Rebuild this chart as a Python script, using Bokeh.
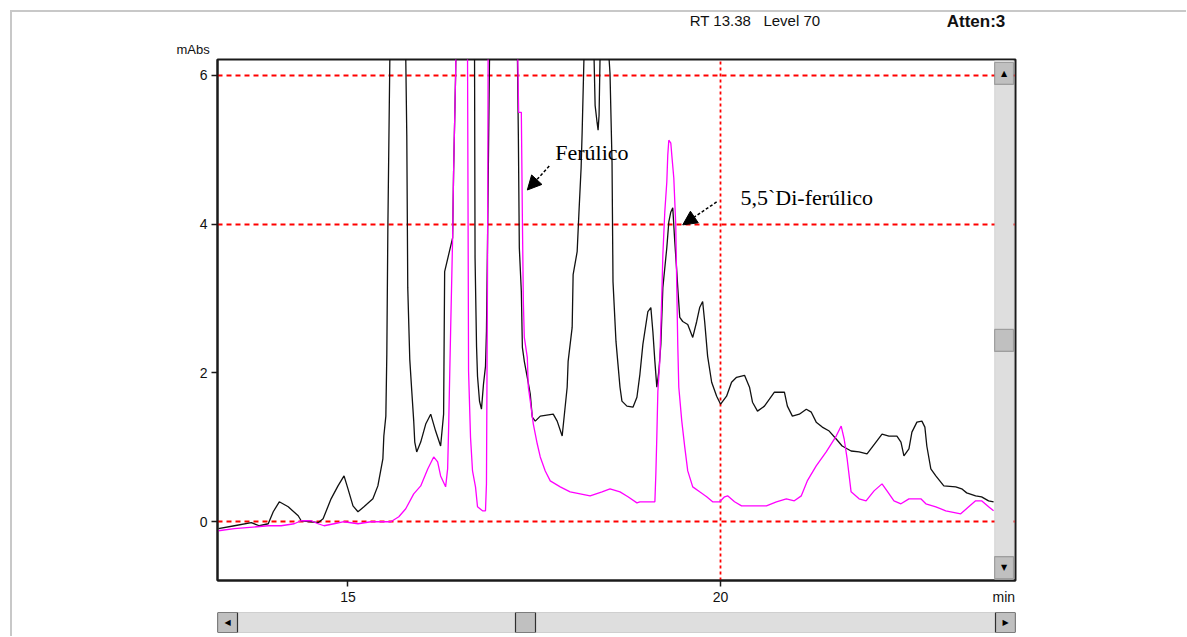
from bokeh.plotting import figure
from bokeh.layouts import column
from bokeh.models import (Range1d, FixedTicker, BoxAnnotation, Label, Arrow,
                          NormalHead, ColumnDataSource, Title)
from bokeh.core.properties import value
from bokeh.embed import file_html
from bokeh.resources import INLINE

# ---------------- data (min, mAbs) ----------------
black_t = [13.262, 13.476, 13.703, 13.810, 13.930, 13.997, 14.078, 14.198, 14.332, 14.372,
           14.505, 14.599, 14.666, 14.773, 14.866, 14.947, 15.000, 15.067, 15.134, 15.214,
           15.334, 15.401, 15.468, 15.481, 15.508, 15.521, 15.535, 15.561, 15.600, 15.740,
           15.775, 15.789, 15.802, 15.829, 15.856, 15.882, 15.896, 15.922, 15.976, 16.043,
           16.110, 16.176, 16.243, 16.283, 16.297, 16.404, 16.417, 16.444, 16.471, 16.671,
           16.698, 16.705, 16.725, 16.738, 16.765, 16.791, 16.818, 16.845, 16.858, 16.872,
           16.898, 16.925, 17.246, 17.273, 17.286, 17.299, 17.326, 17.340, 17.366, 17.406,
           17.446, 17.473, 17.513, 17.580, 17.754, 17.807, 17.874, 17.941, 17.954, 18.008,
           18.021, 18.075, 18.102, 18.128, 18.142, 18.168, 18.195, 18.289, 18.302, 18.316,
           18.342, 18.356, 18.369, 18.382, 18.396, 18.489, 18.503, 18.516, 18.543, 18.556,
           18.596, 18.623, 18.650, 18.676, 18.743, 18.824, 18.877, 18.917, 18.957, 19.024,
           19.064, 19.091, 19.118, 19.144, 19.171, 19.198, 19.225, 19.278, 19.305, 19.332,
           19.358, 19.385, 19.412, 19.425, 19.452, 19.492, 19.559, 19.626, 19.679, 19.719,
           19.759, 19.786, 19.826, 19.880, 19.947, 20.000, 20.080, 20.147, 20.214, 20.321,
           20.388, 20.428, 20.495, 20.588, 20.655, 20.722, 20.856, 20.896, 20.963, 21.056,
           21.150, 21.217, 21.283, 21.364, 21.457, 21.551, 21.631, 21.751, 21.858, 21.965,
           22.085, 22.166, 22.259, 22.366, 22.420, 22.460, 22.527, 22.567, 22.634, 22.701,
           22.741, 22.767, 22.821, 22.888, 22.995, 23.155, 23.235, 23.302, 23.422, 23.502,
           23.596, 23.663]
black_y = [-0.094, -0.054, -0.013, -0.054, -0.027, 0.134, 0.268, 0.201, 0.080, 0.013,
           0.000, -0.013, 0.040, 0.308, 0.482, 0.616, 0.442, 0.214, 0.134, 0.201,
           0.308, 0.482, 0.844, 1.152, 1.420, 2.250, 3.951, 6.174, 8.000, 8.000,
           6.250, 5.196, 3.147, 2.183, 1.754, 1.353, 1.071, 0.938, 1.071, 1.313,
           1.446, 1.219, 1.018, 1.446, 3.362, 3.817, 4.701, 6.000, 8.000, 8.000,
           6.300, 3.549, 2.357, 1.955, 1.620, 1.513, 1.848, 2.089, 2.558, 3.723,
           6.134, 8.000, 8.000, 6.300, 5.196, 3.683, 3.094, 2.344, 2.156, 1.942,
           1.714, 1.406, 1.353, 1.420, 1.446, 1.353, 1.152, 1.808, 2.156, 2.612,
           3.321, 3.630, 4.219, 4.755, 5.237, 6.300, 8.000, 8.000, 6.227, 5.598,
           5.371, 5.263, 5.464, 6.227, 8.000, 8.000, 6.227, 6.026, 4.835, 3.228,
           2.424, 2.116, 1.808, 1.621, 1.554, 1.540, 1.674, 1.982, 2.384, 2.826,
           2.879, 2.558, 2.156, 1.808, 2.022, 2.384, 3.147, 3.683, 4.031, 4.165,
           4.219, 3.763, 3.362, 3.147, 2.746, 2.692, 2.652, 2.478, 2.692, 2.879,
           2.960, 2.692, 2.223, 1.875, 1.688, 1.580, 1.688, 1.875, 1.942, 1.969,
           1.808, 1.607, 1.487, 1.554, 1.647, 1.741, 1.741, 1.554, 1.420, 1.446,
           1.513, 1.473, 1.339, 1.272, 1.219, 1.112, 1.018, 0.951, 0.938, 0.911,
           1.071, 1.179, 1.152, 1.152, 1.071, 0.884, 0.978, 1.205, 1.339, 1.353,
           1.272, 1.018, 0.710, 0.616, 0.482, 0.469, 0.442, 0.388, 0.348, 0.335,
           0.281, 0.268]

magenta_t = [13.262, 13.476, 13.930, 14.104, 14.278, 14.372, 14.505, 14.599, 14.679, 14.813,
             14.947, 15.134, 15.307, 15.575, 15.682, 15.775, 15.882, 15.976, 16.070, 16.150,
             16.203, 16.243, 16.310, 16.337, 16.350, 16.377, 16.404, 16.417, 16.444, 16.471,
             16.591, 16.604, 16.618, 16.644, 16.671, 16.711, 16.738, 16.805, 16.845, 16.858,
             16.872, 16.885, 17.250, 17.290, 17.313, 17.326, 17.340, 17.353, 17.366, 17.406,
             17.420, 17.446, 17.487, 17.540, 17.580, 17.647, 17.714, 17.848, 17.981, 18.115,
             18.249, 18.409, 18.516, 18.650, 18.757, 18.877, 18.917, 19.118, 19.131, 19.144,
             19.158, 19.184, 19.211, 19.225, 19.251, 19.278, 19.291, 19.305, 19.332, 19.345,
             19.372, 19.398, 19.412, 19.425, 19.439, 19.479, 19.519, 19.559, 19.626, 19.719,
             19.813, 19.893, 19.987, 20.053, 20.094, 20.187, 20.281, 20.481, 20.615, 20.749,
             20.882, 20.989, 21.083, 21.163, 21.283, 21.417, 21.551, 21.618, 21.658, 21.698,
             21.751, 21.858, 21.952, 22.059, 22.166, 22.233, 22.326, 22.420, 22.527, 22.687,
             22.754, 22.888, 23.021, 23.222, 23.329, 23.422, 23.502, 23.596, 23.663]
magenta_y = [-0.121, -0.094, -0.054, -0.054, -0.027, 0.013, 0.013, -0.027, -0.054, -0.027,
             0.000, -0.027, 0.000, 0.000, 0.067, 0.174, 0.375, 0.482, 0.710, 0.871,
             0.804, 0.616, 0.469, 0.710, 1.246, 2.558, 3.817, 4.701, 6.000, 8.000,
             8.000, 6.300, 2.022, 1.138, 0.683, 0.469, 0.201, 0.147, 0.147, 0.509,
             3.321, 8.000, 8.000, 5.504, 5.504, 5.504, 4.085, 2.960, 2.478, 2.210,
             1.808, 1.621, 1.313, 1.045, 0.871, 0.683, 0.549, 0.469, 0.402, 0.375,
             0.348, 0.402, 0.442, 0.402, 0.335, 0.254, 0.268, 0.268, 0.643, 1.138,
             1.754, 2.156, 3.054, 3.589, 4.165, 4.567, 4.929, 5.129, 5.089, 4.929,
             4.621, 3.991, 3.147, 2.384, 1.808, 1.353, 1.004, 0.683, 0.469, 0.402,
             0.335, 0.268, 0.268, 0.335, 0.348, 0.268, 0.214, 0.214, 0.214, 0.268,
             0.308, 0.281, 0.348, 0.549, 0.750, 0.938, 1.152, 1.286, 1.112, 0.844,
             0.402, 0.308, 0.281, 0.415, 0.509, 0.415, 0.281, 0.241, 0.308, 0.308,
             0.241, 0.201, 0.147, 0.107, 0.201, 0.281, 0.281, 0.201, 0.147]

x_ticks = [15, 20]
x_unit_pos = 23.8
y_ticks = [0, 2, 4, 6]
x_grid = [20]
y_grid = [0, 4, 6]
header_left = "RT 13.38\u00a0\u00a0\u00a0Level 70"
header_right = "Atten:3"
y_unit = "mAbs"
x_unit = "min"
peak_labels = ["Ferúlico", "5,5`Di-ferúlico"]

W = 1186
HEAD_H = 35
FL, FR, FT, FB = 216, 1017, 59, 582          # frame edges in page pixels

# ---------------- header strip (texts above the plot) ----------------
hd = figure(width=W, height=HEAD_H, x_range=Range1d(FL, FR), y_range=Range1d(HEAD_H, 0),
            output_backend="svg", toolbar_location=None, title=None,
            x_axis_type=None, y_axis_type=None,
            min_border_left=FL, min_border_right=W - FR, min_border_top=0, min_border_bottom=0)
hd.outline_line_color = None
hd.border_fill_color = None
hd.background_fill_color = None
hd.xgrid.visible = False
hd.ygrid.visible = False
hd.text(x=[690], y=[20], text=[header_left], text_font=value("Liberation Sans"),
        text_font_size="15px", text_baseline="middle", text_color="#111111")
hd.text(x=[948], y=[21], text=[header_right], text_font=value("Liberation Sans"),
        text_font_size="17px", text_font_style="bold", text_baseline="middle",
        text_color="#111111")

# ---------------- main figure ----------------
H = FB + 25 - HEAD_H
X0, X1 = 13.249, 23.957
Y0, Y1 = -0.790, 6.214
p = figure(width=W, height=H, x_range=Range1d(X0, X1), y_range=Range1d(Y0, Y1),
           output_backend="svg", toolbar_location=None, title=None,
           min_border_left=FL, min_border_right=W - FR, min_border_top=FT - HEAD_H,
           min_border_bottom=25)
p.background_fill_color = "white"
p.border_fill_color = None
p.outline_line_color = "#1a1a1a"
p.outline_line_width = 2

# y unit above the axis (a title is drawn outside the frame)
p.add_layout(Title(text=y_unit, align="left", offset=-41, standoff=6,
                   text_font="Liberation Sans", text_font_size="13px",
                   text_font_style="normal", text_color="#111111"), "above")

for ax in (p.xaxis[0], p.yaxis[0]):
    ax.axis_line_color = "#1a1a1a"
    ax.axis_line_width = 2
    ax.major_label_text_font = "Liberation Sans"
    ax.major_label_text_font_size = "14px"
    ax.major_label_text_color = "#111111"

p.yaxis.ticker = FixedTicker(ticks=y_ticks)
p.yaxis.major_tick_line_color = "#1a1a1a"
p.yaxis.major_tick_line_width = 1.5
p.yaxis.major_tick_out = 6
p.yaxis.major_tick_in = 0
p.yaxis.minor_tick_line_color = None
p.yaxis.major_label_standoff = 4

# x axis: labels at 15, 20 and the unit "min"; tick marks only at 15 and 20
p.xaxis.ticker = FixedTicker(ticks=x_ticks + [x_unit_pos], minor_ticks=x_ticks)
p.xaxis.major_label_overrides = {x_unit_pos: x_unit}
p.xaxis.major_tick_line_color = None
p.xaxis.major_tick_out = 6
p.xaxis.major_tick_in = 0
p.xaxis.minor_tick_line_color = "#1a1a1a"
p.xaxis.minor_tick_line_width = 1.5
p.xaxis.minor_tick_out = 6
p.xaxis.minor_tick_in = 0
p.xaxis.major_label_standoff = 2

p.xgrid.ticker = FixedTicker(ticks=x_grid)
p.ygrid.ticker = FixedTicker(ticks=y_grid)
p.xgrid.grid_line_color = "#ff0000"
p.xgrid.grid_line_dash = "3 3"
p.xgrid.grid_line_width = 1.8
p.ygrid.grid_line_color = "#ff0000"
p.ygrid.grid_line_dash = "5 4"
p.ygrid.grid_line_width = 1.8

src_b = ColumnDataSource(dict(t=black_t, y=black_y))
src_m = ColumnDataSource(dict(t=magenta_t, y=magenta_y))
p.line("t", "y", source=src_b, line_color="#111111", line_width=1.3)
p.line("t", "y", source=src_m, line_color="#ff00ff", line_width=1.3)

# ---------------- decorations inside the frame ----------------
def dx(px):
    return 15 + (px - 347) / 74.8

def dy(py):
    return (523 - py) / 74.67

# vertical scrollbar inside the plot frame
p.add_layout(BoxAnnotation(left=dx(996), right=dx(1015), top=dy(60), bottom=dy(581),
                           fill_color="#dedede", fill_alpha=1, line_color="#a8a8a8", line_width=1))
for top, bot in [(62, 84), (330, 352), (558, 580)]:
    p.add_layout(BoxAnnotation(left=dx(996), right=dx(1015), top=dy(top), bottom=dy(bot),
                               fill_color="#c0c0c0", fill_alpha=1, line_color="#303030",
                               line_width=1.2))
for txt, x, y in [("▲", 1005.5, 73), ("▼", 1005.5, 569)]:
    p.add_layout(Label(x=dx(x), y=dy(y), text=txt, text_font="DejaVu Sans", text_font_size="8px",
                       text_align="center", text_baseline="middle", text_color="#000000"))

p.add_layout(Label(x=dx(555), y=dy(152), text=peak_labels[0], text_font="Liberation Serif",
                   text_font_size="22px", text_baseline="alphabetic", text_color="#000000"))
p.add_layout(Label(x=dx(741), y=dy(198), text=peak_labels[1], text_font="Liberation Serif",
                   text_font_size="22px", text_baseline="alphabetic", text_color="#000000"))

p.add_layout(Arrow(end=NormalHead(size=14, fill_color="black", line_color="black"),
                   x_start=dx(549), y_start=dy(166), x_end=dx(527), y_end=dy(190),
                   line_color="black", line_width=1.5, line_dash="3 2"))
p.add_layout(Arrow(end=NormalHead(size=14, fill_color="black", line_color="black"),
                   x_start=dx(717), y_start=dy(202), x_end=dx(683), y_end=dy(225),
                   line_color="black", line_width=1.5, line_dash="3 2"))

# ---------------- horizontal scrollbar strip ----------------
sb = figure(width=W, height=29, x_range=Range1d(217, 1015), y_range=Range1d(0, 20),
            output_backend="svg", toolbar_location=None, title=None,
            x_axis_type=None, y_axis_type=None,
            min_border_left=217, min_border_right=W - 1015, min_border_top=5,
            min_border_bottom=4)
sb.outline_line_color = None
sb.border_fill_color = None
sb.background_fill_color = None
sb.xgrid.visible = False
sb.ygrid.visible = False
sb.quad(left=[217], right=[1015], bottom=[0], top=[20], fill_color="#dedede",
        line_color="#a8a8a8", line_width=1)
sb.quad(left=[217, 515, 995], right=[237, 535, 1015], bottom=[0, 0, 0], top=[20, 20, 20],
        fill_color="#c0c0c0", line_color="#303030", line_width=1.2)
sb.text(x=[227, 1005], y=[10, 10], text=["◀", "▶"], text_font=value("DejaVu Sans"),
        text_font_size="8px", text_align="center", text_baseline="middle", text_color="black")

layout = column(hd, p, sb, spacing=0,
                styles={"background":
                        "linear-gradient(#c8c8c8,#c8c8c8) 10px 10px / 1176px 2px no-repeat, "
                        "linear-gradient(#c8c8c8,#c8c8c8) 10px 10px / 2px 640px no-repeat, white"})

open("out.html", "w").write(file_html(layout, INLINE))
